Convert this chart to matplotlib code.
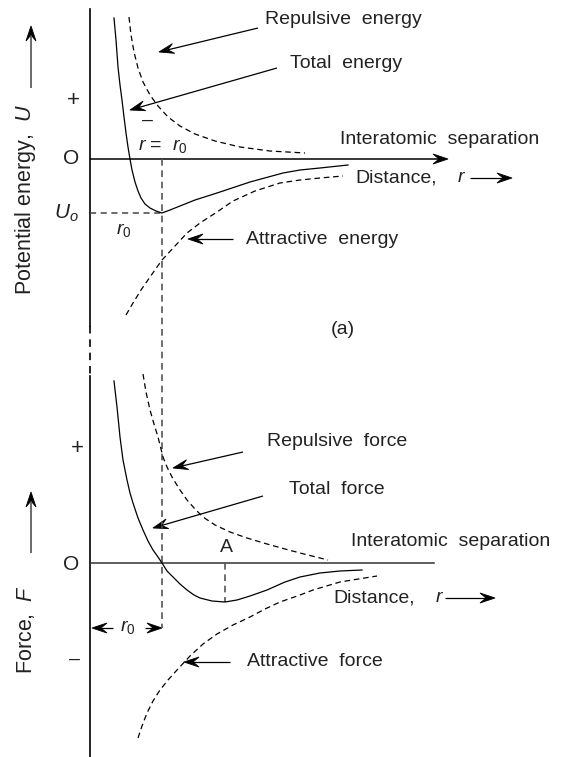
import matplotlib
matplotlib.use("Agg")
import matplotlib.pyplot as plt
from matplotlib.patches import Polygon
import numpy as np

plt.rcParams['font.family'] = ['Liberation Sans', 'DejaVu Sans']
plt.rcParams['mathtext.fontset'] = 'custom'
plt.rcParams['mathtext.it'] = 'Liberation Sans:italic'
plt.rcParams['mathtext.rm'] = 'Liberation Sans'
plt.rcParams['mathtext.bf'] = 'Liberation Sans:bold'

# ---------------- data (pixel space) ----------------
# (a) potential energy panel
energy_total_x = [114, 116, 118, 120, 122, 124, 126, 128, 130, 132, 135, 138, 141, 145, 150,
                  156, 162, 170, 180, 195, 217, 250, 283, 300, 320, 348]
energy_total_y = [18, 40, 67, 85, 100, 117, 133, 147, 159, 170, 182, 191, 198, 204, 208,
                  211, 213, 210, 206, 200, 193, 182, 173, 170, 168, 165]
energy_rep_x = [129, 131, 134, 138, 143, 150, 158, 168, 180, 195, 215, 240, 270, 305]
energy_rep_y = [17, 35, 52, 68, 82, 95, 106, 117, 126, 134, 141, 147, 151, 153]
energy_att_x = [126, 133, 141, 150, 162, 175, 187, 200, 217, 233, 255, 280, 300, 320, 343]
energy_att_y = [315, 303, 290, 277, 260, 246, 233, 223, 212, 201, 191, 183, 180, 178, 176]

# (b) force panel
force_total_x = [114, 117, 120, 123, 127, 130, 133, 138, 143, 148, 153, 158, 162, 167, 173,
                 180, 187, 194, 200, 212, 225, 237, 250, 267, 285, 300, 320, 340, 362]
force_total_y = [381, 407, 437, 460, 480, 493, 503, 518, 530, 541, 550, 557, 563, 571, 577,
                 584, 590, 595, 598, 601, 602, 600, 596, 590, 582, 577, 573, 571, 570]
force_rep_x = [143, 146, 150, 154, 158, 163, 167, 172, 180, 187, 195, 203, 215, 230, 247,
               267, 285, 300, 328]
force_rep_y = [374, 392, 410, 424, 437, 457, 467, 477, 490, 500, 509, 517, 525, 532, 538,
               544, 549, 553, 560]
force_att_x = [138, 142, 147, 153, 160, 168, 177, 190, 203, 217, 233, 250, 265, 280, 300,
               313, 340, 377]
force_att_y = [738, 726, 713, 701, 690, 680, 670, 656, 644, 634, 625, 617, 609, 602, 595,
               590, 582, 576]

# labels: (text, x_left, y_center)
labels_left = [
    ("Repulsive  energy", 265, 19),
    ("Total  energy", 290, 63),
    ("Interatomic  separation", 340, 140),
    ("Distance,", 355, 178),
    ("$r$", 457, 178),
    ("Attractive  energy", 246, 239),
    ("Repulsive  force", 267, 442),
    ("Total  force", 289, 490),
    ("Interatomic  separation", 351, 542),
    ("Distance,", 333, 598),
    ("$r$", 435, 598),
    ("Attractive  force", 247, 662),
]
# pointer arrows: (tail_x, tail_y, tip_x, tip_y)
pointer_arrows = [
    (258, 28, 159, 52),
    (277, 68, 130, 110),
    (233, 239, 188, 239),
    (470, 178, 512, 178),
    (243, 452, 173, 468),
    (263, 496, 153, 528),
    (230, 662, 184, 662),
    (445, 598, 495, 598),
    (113, 628, 92, 628),
    (145, 628, 162, 628),
]
axis_label_arrows = [
    (31, 88, 31, 26),
    (31, 553, 31, 492),
]

# --------------------------------------------------------------------------
W, H = 569, 757
fig = plt.figure(figsize=(W / 100, H / 100), dpi=100)
ax = fig.add_axes([0, 0, 1, 1])
ax.set_xlim(0, W)
ax.set_ylim(H, 0)
ax.axis('off')

TXT = '#222222'
FS = 14


def arrow(x0, y0, x1, y1, color='black', lw=0.9, L=15, hw=5, notch=6):
    d = np.array([x1 - x0, y1 - y0], dtype=float)
    n = d / np.hypot(*d)
    p = np.array([-n[1], n[0]])
    tip = np.array([x1, y1], dtype=float)
    back = tip - n * L
    notchp = tip - n * (L - notch)
    ax.plot([x0, notchp[0]], [y0, notchp[1]], color=color, lw=lw, solid_capstyle='butt')
    poly = Polygon([tip, back + p * hw, notchp, back - p * hw], closed=True,
                   facecolor='black', edgecolor='black', lw=0.6, joinstyle='miter')
    ax.add_patch(poly)


# axes lines
ax.plot([90, 90], [9, 326], color='black', lw=1.2)
ax.plot([90, 90], [326, 376], color='black', lw=1.2, linestyle=(0, (4.5, 3.5)))
ax.plot([90, 90], [376, 757], color='black', lw=1.2)
arrow(90, 159, 448, 159, lw=1.1, L=15, hw=5, notch=6)
ax.plot([90, 434], [563, 563], color='#333333', lw=1.1)

# guide dashed lines
ax.plot([90, 162], [213, 213], color='#444444', lw=1.1, linestyle=(0, (4, 3)))
ax.plot([162, 162], [159, 628], color='#555555', lw=1.2, linestyle=(0, (4, 2.8)))
ax.plot([225, 225], [563, 602], color='#555555', lw=1.2, linestyle=(0, (4, 2.8)))

# curves
dash = (0, (4.5, 3))
ax.plot(energy_total_x, energy_total_y, color='black', lw=0.9)
ax.plot(energy_rep_x, energy_rep_y, color='black', lw=0.9, linestyle=dash)
ax.plot(energy_att_x, energy_att_y, color='black', lw=0.9, linestyle=dash)
ax.plot(force_total_x, force_total_y, color='black', lw=0.9)
ax.plot(force_rep_x, force_rep_y, color='black', lw=0.9, linestyle=dash)
ax.plot(force_att_x, force_att_y, color='black', lw=0.9, linestyle=dash)

# pointer arrows
for (x0, y0, x1, y1) in pointer_arrows:
    arrow(x0, y0, x1, y1)
for (x0, y0, x1, y1) in axis_label_arrows:
    arrow(x0, y0, x1, y1, color='#444444', lw=1.1, L=15, hw=5, notch=6)

# labels
for (t, x, y) in labels_left:
    ax.text(x, y, t, ha='left', va='center', fontsize=FS, color=TXT)

ax.text(343, 330, "(a)", ha='center', va='center', fontsize=FS, color=TXT)
ax.text(226, 547, "A", ha='center', va='center', fontsize=FS, color=TXT)
ax.text(71, 158, "O", ha='center', va='center', fontsize=FS + 1, color=TXT)
ax.text(71, 564, "O", ha='center', va='center', fontsize=FS + 1, color=TXT)
ax.text(73, 101, "+", ha='center', va='center', fontsize=FS + 2, color=TXT)
ax.text(77, 449, "+", ha='center', va='center', fontsize=FS + 2, color=TXT)
ax.text(75, 659, "\u2013", ha='center', va='center', fontsize=FS, color=TXT)
ax.text(148, 120, "\u2013", ha='center', va='center', fontsize=FS, color=TXT)
ax.text(66, 213, "$U_o$", ha='center', va='center', fontsize=FS + 1, color=TXT)
ax.text(124, 230, "$r_0$", ha='center', va='center', fontsize=FS, color=TXT)
ax.text(138, 146, "$r$ =  $r_0$", ha='left', va='center', fontsize=FS, color=TXT)
ax.text(128, 627, "$r_0$", ha='center', va='center', fontsize=FS, color=TXT)

ax.text(26, 200, "Potential energy,  $U$", ha='center', va='center', rotation=90,
        fontsize=15.5, color=TXT)
ax.text(26, 629, "Force,  $F$", ha='center', va='center', rotation=90,
        fontsize=15.5, color=TXT)

fig.savefig("out.png", dpi=100)
